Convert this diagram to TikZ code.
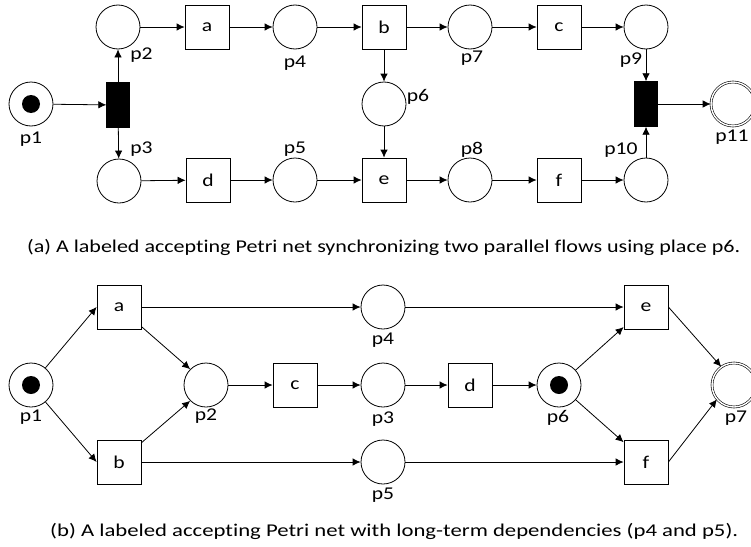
\documentclass[tikz,border=0pt]{standalone}
\usepackage{fontspec}
\setmainfont{Carlito}[Ligatures=CommonOff]
\usetikzlibrary{arrows.meta}
\newcommand{\widetxt}[1]{\scalebox{1.2}[1]{#1}}
\begin{document}
\begin{tikzpicture}[x=1pt,y=-1pt,
  every node/.style={font=\fontsize{18}{21}\selectfont},
  place/.style={draw,circle,minimum size=44pt,inner sep=0pt,line width=0.8pt},
  finalplace/.style={draw,circle,minimum size=44pt,inner sep=0pt,line width=0.6pt,double,double distance=1.4pt},
  trans/.style={draw,rectangle,minimum width=44pt,minimum height=44pt,inner sep=0pt,line width=0.8pt},
  bar/.style={draw,fill=black,rectangle,minimum width=23pt,minimum height=45pt,inner sep=0pt},
  token/.style={fill=black,circle,minimum size=18pt,inner sep=0pt},
  lbl/.style={inner sep=0pt},
  arc/.style={-{Latex[length=8pt,width=7.5pt]},line width=0.8pt}]
\useasboundingbox (0,0) rectangle (751,546);
% ---------- (a) ----------
\node[place] (ap1) at (31,104) {};
\node[token] (atok1) at (31,104) {};
\node[bar] (ab1) at (118,105) {};
\node[place] (ap2) at (118,27) {};
\node[place] (ap3) at (119,181) {};
\node[trans] (aa) at (207,27) {\widetxt{a}};
\node[place] (ap4) at (295,27) {};
\node[trans] (ab) at (384,27) {\widetxt{b}};
\node[place] (ap7) at (470,27) {};
\node[trans] (ac) at (559,27) {\widetxt{c}};
\node[place] (ap9) at (646,27) {};
\node[place] (ap6) at (384,104) {};
\node[trans] (ad) at (208,180) {\widetxt{d}};
\node[place] (ap5) at (295,180) {};
\node[trans] (ae) at (384,180) {\widetxt{e}};
\node[place] (ap8) at (470,180) {};
\node[trans] (af) at (559,180) {\widetxt{f}};
\node[place] (ap10) at (646,180) {};
\node[bar] (ab2) at (646,104) {};
\node[finalplace] (ap11) at (733,104) {};
% labels (a)
\node[lbl] (lap1) at (31,139) {\widetxt{p1}};
\node[lbl] (lap2) at (141.5,55.5) {\widetxt{p2}};
\node[lbl] (lap3) at (141.5,149.5) {\widetxt{p3}};
\node[lbl] (lap4) at (295,63) {\widetxt{p4}};
\node[lbl] (lap5) at (295,149) {\widetxt{p5}};
\node[lbl] (lap6) at (418,97) {\widetxt{p6}};
\node[lbl] (lap7) at (472,58.5) {\widetxt{p7}};
\node[lbl] (lap8) at (472,149.5) {\widetxt{p8}};
\node[lbl] (lap9) at (631,60) {\widetxt{p9}};
\node[lbl] (lap10) at (621,150) {\widetxt{p10}};
\node[lbl] (lap11) at (732,137) {\widetxt{p11}};
% arcs (a)
\draw[arc] (ap1) -- (ab1);
\draw[arc] (ab1) -- (ap2);
\draw[arc] (ab1) -- (ap3);
\draw[arc] (ap2) -- (aa);
\draw[arc] (aa) -- (ap4);
\draw[arc] (ap4) -- (ab);
\draw[arc] (ab) -- (ap7);
\draw[arc] (ap7) -- (ac);
\draw[arc] (ac) -- (ap9);
\draw[arc] (ab) -- (ap6);
\draw[arc] (ap6) -- (ae);
\draw[arc] (ap3) -- (ad);
\draw[arc] (ad) -- (ap5);
\draw[arc] (ap5) -- (ae);
\draw[arc] (ae) -- (ap8);
\draw[arc] (ap8) -- (af);
\draw[arc] (af) -- (ap10);
\draw[arc] (ap9) -- (ab2);
\draw[arc] (ap10) -- (ab2);
\draw[arc] (ab2) -- (ap11);
\node[lbl,anchor=west] (capa) at (27,247) {\resizebox{713pt}{\height}{(a) A labeled accepting Petri net synchronizing two parallel flows using place p6.}};
% ---------- (b) ----------
\node[place] (bp1) at (31,385) {};
\node[token] (btok1) at (31,385) {};
\node[trans] (ba) at (119,307) {\widetxt{a}};
\node[trans] (bb) at (119,462) {\widetxt{b}};
\node[place] (bp2) at (206,385) {};
\node[trans] (bc) at (295,385) {\widetxt{c}};
\node[place] (bp4) at (383,307) {};
\node[place] (bp3) at (383,385) {};
\node[place] (bp5) at (383,462) {};
\node[trans] (bd) at (470,385) {\widetxt{d}};
\node[place] (bp6) at (559,385) {};
\node[token] (btok6) at (559,385) {};
\node[trans] (be) at (646,307) {\widetxt{e}};
\node[trans] (bf) at (646,462) {\widetxt{f}};
\node[finalplace] (bp7) at (734,385) {};
% labels (b)
\node[lbl] (lbp1) at (31,417) {\widetxt{p1}};
\node[lbl] (lbp2) at (206,416.5) {\widetxt{p2}};
\node[lbl] (lbp4) at (383,340.5) {\widetxt{p4}};
\node[lbl] (lbp3) at (383,419) {\widetxt{p3}};
\node[lbl] (lbp5) at (383,495) {\widetxt{p5}};
\node[lbl] (lbp6) at (558,418) {\widetxt{p6}};
\node[lbl] (lbp7) at (736,418) {\widetxt{p7}};
% arcs (b)
\draw[arc] (bp1) -- (ba.west);
\draw[arc] (bp1) -- (bb.west);
\draw[arc] (ba) -- (bp2.135);
\draw[arc] (bb) -- (bp2.-135);
\draw[arc] (ba) -- (bp4);
\draw[arc] (bb) -- (bp5);
\draw[arc] (bp2) -- (bc);
\draw[arc] (bc) -- (bp3);
\draw[arc] (bp3) -- (bd);
\draw[arc] (bd) -- (bp6);
\draw[arc] (bp4) -- (be);
\draw[arc] (bp5) -- (bf);
\draw[arc] (bp6) -- (be);
\draw[arc] (bp6) -- (bf);
\draw[arc] (be.east) -- (bp7.125);
\draw[arc] (bf.east) -- (bp7.-140);
\node[lbl,anchor=west] (capb) at (50,531) {\resizebox{688pt}{\height}{(b) A labeled accepting Petri net with long-term dependencies (p4 and p5).}};
\end{tikzpicture}
\end{document}
